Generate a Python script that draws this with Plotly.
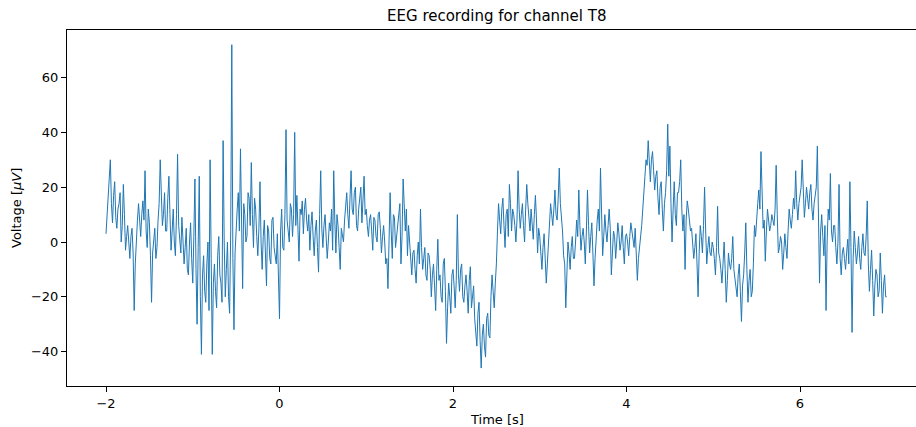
import numpy as np
import plotly.graph_objects as go

# EEG channel T8.
# voltage_a: samples at -2.000, -1.975, ..., 7.000 s
# voltage_b: samples half-way between them (-1.9875, -1.9625, ..., 6.9875 s)
t_start, t_end = -2.0, 7.0
voltage_a = [
    3, 13, 30, 7, 22, 5, 14, 0, 21, -3,
    6, -6, 5, -25, 4, 14, 2, 15, 26, -2,
    7, -22, 2, -6, 8, 30, 6, 18, 4, 24,
    -3, 12, -5, 32, 0, 9, -8, 5, -12, 7,
    -15, 23, -30, 24, -41, -5, -22, 0, 30, -41,
    -8, -24, 2, -15, 37, -20, 0, -26, 72, -32,
    6, 18, 34, -17, 10, 2, 16, 29, -2, 12,
    -5, 22, -10, 8, -16, 4, -8, 9, -6, 3,
    -28, 12, -3, 41, 5, 14, 2, 40, 17, -7,
    10, 3, 16, 4, -3, 11, -5, 8, -11, 26,
    -2, 10, -6, 7, 12, 26, -4, 6, -10, 3,
    8, 18, 5, 26, 10, 20, 4, 15, 7, 24,
    12, 2, 10, -3, 8, 0, 11, -4, 6, -8,
    -17, 18, -6, 9, 2, 12, -8, 23, 4, -5,
    1, -12, -3, -15, 0, 12, -10, -2, -14, -5,
    -20, -8, -25, 1, -12, -22, -6, -37, -15, -26,
    -10, -24, 10, -18, -8, -22, -12, -26, -9, -20,
    -28, -38, -22, -46, -30, -42, -26, -35, -12, -24,
    -8, 14, 3, 16, -2, 12, 21, 4, 10, 0,
    26, 5, 14, 0, 21, 8, 12, 1, 17, -4,
    2, -10, 3, -15, 0, 14, 6, 19, 8, 27,
    10, -5, -24, 0, -10, 2, -6, 8, 19, -3,
    5, -8, 19, -4, 7, -16, 3, 12, 27, -5,
    10, 0, 12, -12, 4, -6, 7, -3, 6, -8,
    3, -5, 7, 0, 5, -14, -2, 6, 20, 30,
    37, 22, 33, 19, 26, 10, 22, 4, 18, 43,
    35, 0, 22, 6, 18, 30, 4, -10, 15, 8,
    5, -6, 3, -20, 6, -4, 20, -8, 2, -5,
    -2, -12, 13, -6, -15, 0, -22, -4, -10, 2,
    -14, -20, -8, -29, -12, 7, -22, -10, -18, 6,
    10, 19, 33, 5, -7, 12, 4, 10, 6, 28,
    -4, 2, -10, 3, -6, 12, 5, 16, 26, 8,
    18, 30, 9, 20, 12, 21, 8, 17, 35, -15,
    10, -5, -25, 12, 25, 0, 6, -8, 21, -12,
    -2, -10, 1, 22, -33, 4, -8, 2, -10, 3,
    -5, 15, -18, -3, -27, -10, -20, -4, -26, -12,
    -20,
]
voltage_b = [
    10, 20, 14, 17, 9, 12, 18, 6, 10, 2,
    0, 2, -4, -8, 8, 6, 10, 8, 4, 12,
    -5, -4, 5, -2, 14, 12, 10, 4, 16, 10,
    4, 0, 10, 6, -4, 2, -2, -10, 0, -6,
    2, -10, -2, -20, -12, -18, -8, -25, -6, -15,
    -18, -5, -12, -22, 0, -10, -20, 4, -6, -4,
    12, 4, 8, 14, 0, 18, 6, 10, 16, 2,
    5, 0, 2, -4, 6, -6, 8, -2, -8, -10,
    4, -2, 10, 8, 0, 12, 10, 6, 3, 12,
    15, 12, 8, 10, 6, 2, 4, -2, 10, 5,
    6, 2, 0, 4, -3, 8, 10, -2, 5, 0,
    14, 10, 16, 12, 18, 6, 12, 20, 16, 10,
    6, 8, 4, 9, 2, 10, 5, 2, 0, -6,
    0, 4, 10, -2, 6, 14, 2, 10, 12, 6,
    -6, -4, -10, -5, -8, -2, -6, -12, -4, -10,
    -12, -16, -10, -14, -20, -8, -18, -24, -20, -12,
    -16, -14, -12, -10, -20, -16, -18, -14, -24, -16,
    -32, -26, -36, -34, -38, -28, -34, -20, -18, -15,
    4, 8, 12, 6, 10, 2, 14, 12, 6, 8,
    12, 10, 6, 12, 14, 4, 6, 10, 8, 5,
    -4, -2, -6, -8, 5, 10, 12, 10, 16, 14,
    4, -8, -6, -4, -2, -6, 0, 2, 6, 2,
    0, 4, 6, 2, -4, -6, 8, 4, 10, 2,
    4, 6, 5, -4, 2, 0, 3, 0, -2, 2,
    0, 2, 4, -2, -4, -6, 0, 12, 24, 28,
    28, 30, 26, 24, 16, 20, 12, 14, 26, 24,
    14, 12, 10, 18, 22, 12, 10, 8, 12, 4,
    0, -2, -8, -4, 2, 6, 4, -2, -4, 0,
    -6, -2, -4, -10, -8, -10, -14, -8, -6, -10,
    -16, -12, -18, -16, -4, -10, -14, -20, -8, 2,
    14, 12, 16, 8, 4, 8, 6, 8, 12, 10,
    -2, 0, -4, -2, 4, 8, 10, 12, 14, 14,
    20, 16, 14, 16, 18, 12, 14, 20, 10, 4,
    2, 6, 0, 8, 4, 6, -2, 0, -6, -4,
    -6, -4, -8, -2, -6, -2, -4, -6, -2, -4,
    2, -8, -10, -14, -16, -12, -18, -14, -16, -20,
]

# Merge the two sample sets in time order
voltage = [None] * (len(voltage_a) + len(voltage_b))
voltage[0::2] = voltage_a
voltage[1::2] = voltage_b
time = np.linspace(t_start, t_end, len(voltage))

x_ticks = [-2, 0, 2, 4, 6]
y_ticks = [-40, -20, 0, 20, 40, 60]

fig = go.Figure()
fig.add_trace(go.Scatter(
    x=time, y=voltage, mode="lines",
    line=dict(color="#1f77b4", width=1.0),
    showlegend=False, hoverinfo="skip",
))

font = "DejaVu Sans, Liberation Sans, sans-serif"
fig.update_layout(
    width=916, height=427,
    margin=dict(l=67, r=0, t=30, b=41),
    paper_bgcolor="white", plot_bgcolor="white",
    font=dict(family=font, size=13, color="black"),
    xaxis=dict(
        range=[-2.4496, 7.337], tickvals=x_ticks,
        showgrid=False, zeroline=False,
        showline=True, linecolor="black", linewidth=1, mirror=True,
        ticks="outside", ticklen=5, tickwidth=1, tickcolor="black",
        tickfont=dict(size=13),
    ),
    yaxis=dict(
        range=[-52.55, 77.37], tickvals=y_ticks,
        showgrid=False, zeroline=False,
        showline=True, linecolor="black", linewidth=1, mirror=False,
        ticks="outside", ticklen=5, tickwidth=1, tickcolor="black",
        tickfont=dict(size=13),
    ),
    title=dict(
        text="EEG recording for channel T8",
        x=0.5062, xref="paper", xanchor="center",
        y=1 - 16 / 427, yref="container", yanchor="middle",
        font=dict(size=15, family=font, color="black"),
    ),
    annotations=[
        dict(text="Time [s]", xref="paper", yref="paper",
             x=0.5062, y=-33 / 356, xanchor="center", yanchor="middle",
             showarrow=False, font=dict(size=13, family=font)),
        dict(text="Voltage [<i>μV</i>]", xref="paper", yref="paper",
             x=-51 / 849, y=0.5, xanchor="center", yanchor="middle",
             textangle=-90, showarrow=False, font=dict(size=13, family=font)),
    ],
)

fig.write_html("out.html")
